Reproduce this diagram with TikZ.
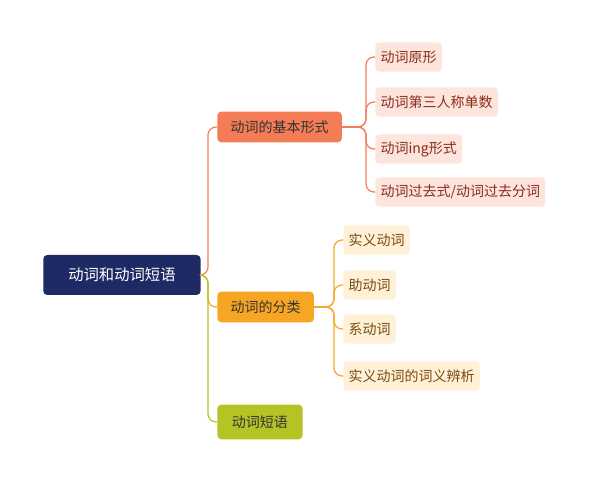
\documentclass[tikz,border=0pt]{standalone}
\usepackage{fontspec}
\newfontfamily\cjk{Noto Sans CJK SC}
\definecolor{navy}{HTML}{1E2A64}
\definecolor{cA}{HTML}{F47C57}
\definecolor{cB}{HTML}{F6A623}
\definecolor{cC}{HTML}{B5C424}
\definecolor{lA}{HTML}{FDE4DC}
\definecolor{lB}{HTML}{FFF1D8}
\definecolor{tA}{HTML}{8A2E1C}
\definecolor{tB}{HTML}{7A4A10}
\begin{document}
\begin{tikzpicture}[x=0.75pt,y=-0.75pt,
  every node/.style={font=\cjk\fontsize{10.5}{12}\selectfont, inner sep=0pt, rounded corners=3pt, anchor=west},
  rootbox/.style={fill=navy, text=white, minimum height=30pt, minimum width=118pt, align=center, font=\cjk\fontsize{11.5}{13}\selectfont},
  lvA/.style={fill=cA, text=black!80, minimum height=23pt, inner xsep=10pt},
  lvB/.style={fill=cB, text=black!80, minimum height=23pt, inner xsep=10pt},
  lvC/.style={fill=cC, text=black!80, minimum height=26pt, inner xsep=11pt},
  leafA/.style={fill=lA, text=tA, minimum height=22pt, inner xsep=4pt},
  leafB/.style={fill=lB, text=tB, minimum height=22pt, inner xsep=4pt},
  link/.style={rounded corners=6pt, line width=0.9pt}]
\useasboundingbox (0,0) rectangle (611,484);
\node[rootbox] (r) at (43,275) {动词和动词短语};
\node[lvA] (a) at (217,127) {动词的基本形式};
\node[lvB] (b) at (217,307) {动词的分类};
\node[lvC] (c) at (217,422) {动词短语};
\node[leafA] (a1) at (375,57) {动词原形};
\node[leafA] (a2) at (375,102) {动词第三人称单数};
\node[leafA] (a3) at (375,149) {动词ing形式};
\node[leafA] (a4) at (375,192) {动词过去式/动词过去分词};
\node[leafB] (b1) at (343,240) {实义动词};
\node[leafB] (b2) at (343,285) {助动词};
\node[leafB] (b3) at (343,329) {系动词};
\node[leafB] (b4) at (343,376) {实义动词的词义辨析};
\coordinate (rj) at (208,275);
\draw[link, cA] (r.east) -- (rj) |- (a.west);
\draw[link, cB] (r.east) -- (rj) |- (b.west);
\draw[link, cC] (r.east) -- (rj) |- (c.west);
\coordinate (aj) at (366,127);
\foreach \n in {a1,a2,a3,a4} \draw[link, cA] (a.east) -- (aj) |- (\n.west);
\coordinate (bj) at (334,307);
\foreach \n in {b1,b2,b3,b4} \draw[link, cB] (b.east) -- (bj) |- (\n.west);
\end{tikzpicture}
\end{document}
